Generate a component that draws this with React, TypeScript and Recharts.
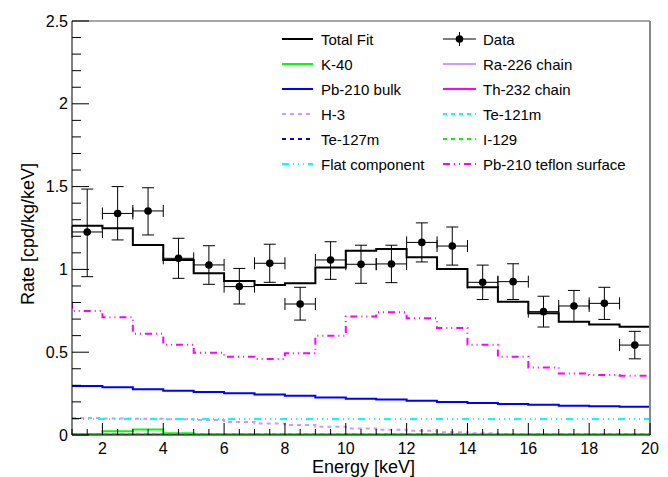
import React from 'react';
import { ComposedChart, Line, Scatter, XAxis, YAxis, ErrorBar } from 'recharts';

// Bin edges (keV)
const binEdges = [1, 2, 3, 4, 5, 6, 7, 8, 9, 10, 11, 12, 13, 14, 15, 16, 17, 18, 19, 20];

// Per-bin values (19 bins, 1-keV wide)
const totalFit = [1.264, 1.248, 1.147, 1.057, 0.976, 0.93, 0.906, 0.916, 1.012, 1.113, 1.123, 1.073, 1.002, 0.892, 0.805, 0.735, 0.684, 0.668, 0.654];
const k40 = [0.006, 0.022, 0.033, 0.01, 0.003, 0.001, 0, 0, 0, 0, 0, 0, 0, 0, 0, 0, 0, 0, 0];
const pb210Bulk = [0.296, 0.288, 0.276, 0.267, 0.26, 0.252, 0.244, 0.237, 0.226, 0.219, 0.215, 0.207, 0.199, 0.193, 0.187, 0.183, 0.177, 0.173, 0.17];
const h3 = [0.102, 0.1, 0.098, 0.095, 0.09, 0.078, 0.07, 0.06, 0.05, 0.04, 0.032, 0.025, 0.017, 0.01, 0.006, 0.003, 0.001, 0, 0];
const te127m = [0.002, 0.002, 0.002, 0.002, 0.002, 0.002, 0.002, 0.002, 0.002, 0.002, 0.002, 0.002, 0.002, 0.002, 0.002, 0.002, 0.002, 0.002, 0.002];
const flatComponent = [0.097, 0.097, 0.097, 0.097, 0.097, 0.097, 0.097, 0.097, 0.097, 0.097, 0.097, 0.097, 0.097, 0.097, 0.097, 0.097, 0.097, 0.097, 0.097];
const ra226 = [0.004, 0.004, 0.004, 0.004, 0.004, 0.004, 0.004, 0.004, 0.004, 0.004, 0.004, 0.004, 0.004, 0.004, 0.004, 0.004, 0.004, 0.004, 0.004];
const th232 = [0.001, 0.001, 0.001, 0.001, 0.001, 0.001, 0.001, 0.001, 0.001, 0.001, 0.001, 0.001, 0.001, 0.001, 0.001, 0.001, 0.001, 0.001, 0.001];
const te121m = [0.003, 0.003, 0.003, 0.003, 0.003, 0.003, 0.003, 0.003, 0.003, 0.003, 0.003, 0.003, 0.003, 0.003, 0.003, 0.003, 0.003, 0.003, 0.003];
const i129 = [0.003, 0.003, 0.003, 0.003, 0.003, 0.003, 0.003, 0.003, 0.003, 0.003, 0.003, 0.003, 0.003, 0.003, 0.003, 0.003, 0.003, 0.003, 0.003];
const pb210Teflon = [0.749, 0.711, 0.612, 0.545, 0.497, 0.473, 0.459, 0.493, 0.6, 0.715, 0.741, 0.705, 0.646, 0.545, 0.473, 0.408, 0.372, 0.362, 0.358];
const pb210TeflonEdge = 0.805;

// Data points
const dataEnergy = [1.5, 2.5, 3.5, 4.5, 5.5, 6.5, 7.5, 8.5, 9.5, 10.5, 11.5, 12.5, 13.5, 14.5, 15.5, 16.5, 17.5, 18.5, 19.5];
const dataRate = [1.226, 1.338, 1.353, 1.067, 1.027, 0.896, 1.037, 0.791, 1.057, 1.031, 1.033, 1.163, 1.141, 0.922, 0.926, 0.745, 0.779, 0.795, 0.543];
const dataErrLow = [0.27, 0.16, 0.145, 0.121, 0.117, 0.105, 0.115, 0.097, 0.117, 0.115, 0.113, 0.118, 0.115, 0.104, 0.108, 0.093, 0.094, 0.097, 0.083];
const dataErrHigh = [0.259, 0.162, 0.14, 0.121, 0.116, 0.11, 0.115, 0.101, 0.11, 0.115, 0.113, 0.118, 0.115, 0.104, 0.108, 0.093, 0.094, 0.097, 0.083];
const dataBinHalfWidth = [0.5, 0.5, 0.5, 0.5, 0.5, 0.5, 0.5, 0.5, 0.5, 0.5, 0.5, 0.5, 0.5, 0.5, 0.5, 0.5, 0.5, 0.5, 0.5];

// Axis ticks
const xTicks = [1, 1.5, 2, 2.5, 3, 3.5, 4, 4.5, 5, 5.5, 6, 6.5, 7, 7.5, 8, 8.5, 9, 9.5, 10, 10.5, 11, 11.5, 12, 12.5, 13, 13.5, 14, 14.5, 15, 15.5, 16, 16.5, 17, 17.5, 18, 18.5, 19, 19.5, 20];
const xTickLabels = [2, 4, 6, 8, 10, 12, 14, 16, 18, 20];
const yTicks = [0, 0.1, 0.2, 0.3, 0.4, 0.5, 0.6, 0.7, 0.8, 0.9, 1, 1.1, 1.2, 1.3, 1.4, 1.5, 1.6, 1.7, 1.8, 1.9, 2, 2.1, 2.2, 2.3, 2.4, 2.5];
const yTickLabels = [0, 0.5, 1, 1.5, 2, 2.5];

const FONT = '"Liberation Sans", Arial, Helvetica, sans-serif';

const stepRows = (values: number[]) =>
  binEdges.map((x, i) => ({ x, y: values[Math.min(i, values.length - 1)] }));

const dataRows = dataEnergy.map((x, i) => ({
  x,
  y: dataRate[i],
  ex: dataBinHalfWidth[i],
  ey: [dataErrLow[i], dataErrHigh[i]],
}));

type Series = { key: string; name: string; values: number[]; color: string; dash?: string; width: number; lead?: number };

const series: Series[] = [
  { key: 'ra226', name: 'Ra-226 chain', values: ra226, color: '#cc99ff', width: 2 },
  { key: 'th232', name: 'Th-232 chain', values: th232, color: '#ff00ff', width: 2 },
  { key: 'te121m', name: 'Te-121m', values: te121m, color: '#00ffff', dash: '4 4', width: 2 },
  { key: 'h3', name: 'H-3', values: h3, color: '#cc99ff', dash: '4 4', width: 2 },
  { key: 'flat', name: 'Flat component', values: flatComponent, color: '#00ffff', dash: '7 4 1 4 1 4 1 4', width: 2 },
  { key: 'k40', name: 'K-40', values: k40, color: '#00ff00', width: 2 },
  { key: 'te127m', name: 'Te-127m', values: te127m, color: '#0000ff', dash: '4 4', width: 2 },
  { key: 'i129', name: 'I-129', values: i129, color: '#00ff00', dash: '4 4', width: 2 },
  { key: 'pb210bulk', name: 'Pb-210 bulk', values: pb210Bulk, color: '#0000ff', width: 2 },
  { key: 'teflon', name: 'Pb-210 teflon surface', values: pb210Teflon, color: '#ff00ff', dash: '7 4 1 4 1 4', width: 2, lead: pb210TeflonEdge },
  { key: 'total', name: 'Total Fit', values: totalFit, color: '#000000', width: 2 },
];

const legendLayout: string[][] = [
  ['Total Fit', 'Data'],
  ['K-40', 'Ra-226 chain'],
  ['Pb-210 bulk', 'Th-232 chain'],
  ['H-3', 'Te-121m'],
  ['Te-127m', 'I-129'],
  ['Flat component', 'Pb-210 teflon surface'],
];

const XTick = (props: any) => {
  const { x, y, payload } = props;
  const v = payload.value;
  const major = xTickLabels.some((t) => Math.abs(t - v) < 1e-6);
  return (
    <g>
      <line x1={x} y1={y} x2={x} y2={y - (major ? 12 : 6)} stroke="#000" strokeWidth={1} />
      {major && (
        <text x={x} y={y + 19} textAnchor="middle" fontSize={16} fontFamily={FONT} fill="#000">
          {String(v)}
        </text>
      )}
    </g>
  );
};

const YTick = (props: any) => {
  const { x, y, payload } = props;
  const v = payload.value;
  const major = yTickLabels.some((t) => Math.abs(t - v) < 1e-6);
  return (
    <g>
      <line x1={x} y1={y} x2={x + (major ? 17 : 9)} y2={y} stroke="#000" strokeWidth={1} />
      {major && (
        <text x={x - 4} y={y + 5.5} textAnchor="end" fontSize={16} fontFamily={FONT} fill="#000">
          {String(v)}
        </text>
      )}
    </g>
  );
};

const LegendOverlay = () => {
  const colX = [[282, 313, 321], [443, 476, 483]];
  const rowY = [39, 64, 89, 114, 139, 164];
  return (
    <svg width={668} height={477} style={{ position: 'absolute', left: 0, top: 0, pointerEvents: 'none' }}>
      {legendLayout.map((row, r) =>
        row.map((name, c) => {
          const [x1, x2, tx] = colX[c];
          const y = rowY[r];
          let sample: React.ReactNode;
          if (name === 'Data') {
            const cx = (x1 + x2) / 2;
            sample = (
              <g>
                <line x1={x1} y1={y} x2={x2} y2={y} stroke="#000" strokeWidth={1} />
                <line x1={cx} y1={y - 7} x2={cx} y2={y + 7} stroke="#000" strokeWidth={1} />
                <circle cx={cx} cy={y} r={3.8} fill="#000" />
              </g>
            );
          } else {
            const s = series.find((q) => q.name === name)!;
            sample = <line x1={x1} y1={y} x2={x2} y2={y} stroke={s.color} strokeWidth={s.width} strokeDasharray={s.dash} />;
          }
          return (
            <g key={name}>
              {sample}
              <text x={tx} y={y + 5.5} fontSize={15} fontFamily={FONT} fill="#000">
                {name}
              </text>
            </g>
          );
        })
      )}
    </svg>
  );
};

const Dot = (props: any) => <circle cx={props.cx} cy={props.cy} r={3.8} fill="#000" />;

export default function App() {
  return (
    <div style={{ position: 'absolute', left: 0, top: 0, width: 668, height: 477, background: '#fff' }}>
      <ComposedChart
        width={668}
        height={477}
        margin={{ top: 20, right: 17, bottom: 41, left: 71 }}
      >
        <XAxis
          xAxisId="top"
          orientation="top"
          type="number"
          domain={[1, 20]}
          tick={false}
          tickLine={false}
          height={1}
          axisLine={{ stroke: '#888', strokeWidth: 1.5 }}
          allowDataOverflow
        />
        <YAxis
          yAxisId="right"
          orientation="right"
          type="number"
          domain={[0, 2.5]}
          tick={false}
          tickLine={false}
          width={1}
          axisLine={{ stroke: '#888', strokeWidth: 2 }}
          allowDataOverflow
        />
        <XAxis
          type="number"
          dataKey="x"
          domain={[1, 20]}
          ticks={xTicks}
          interval={0}
          tick={<XTick />}
          tickLine={false}
          tickSize={0}
          tickMargin={0}
          height={1}
          axisLine={{ stroke: '#000', strokeWidth: 1 }}
          allowDataOverflow
        />
        <YAxis
          type="number"
          dataKey="y"
          domain={[0, 2.5]}
          ticks={yTicks}
          interval={0}
          tick={<YTick />}
          tickLine={false}
          tickSize={0}
          tickMargin={0}
          width={1}
          axisLine={{ stroke: '#000', strokeWidth: 1 }}
          allowDataOverflow
        />
        {series.map((s) => (
          <Line
            key={s.key}
            data={s.lead !== undefined ? [{ x: binEdges[0], y: s.lead }, ...stepRows(s.values)] : stepRows(s.values)}
            dataKey="y"
            type="stepAfter"
            stroke={s.color}
            strokeWidth={s.width}
            strokeDasharray={s.dash}
            dot={false}
            activeDot={false}
            isAnimationActive={false}
          />
        ))}
        <Scatter data={dataRows} dataKey="y" shape={<Dot />} isAnimationActive={false}>
          <ErrorBar dataKey="ex" direction="x" width={6} stroke="#000" strokeWidth={1} />
          <ErrorBar dataKey="ey" direction="y" width={6} stroke="#000" strokeWidth={1} />
        </Scatter>
      </ComposedChart>
      <LegendOverlay />
      <svg width={668} height={477} style={{ position: 'absolute', left: 0, top: 0, pointerEvents: 'none' }}>
        <text x={363.5} y={473} textAnchor="middle" fontSize={18} fontFamily={FONT} fill="#000">
          Energy [keV]
        </text>
        <text
          x={33.5}
          y={234}
          transform="rotate(-90 33.5 234)"
          textAnchor="middle"
          fontSize={18}
          fontFamily={FONT}
          fill="#000"
        >
          Rate [cpd/kg/keV]
        </text>
      </svg>
    </div>
  );
}
